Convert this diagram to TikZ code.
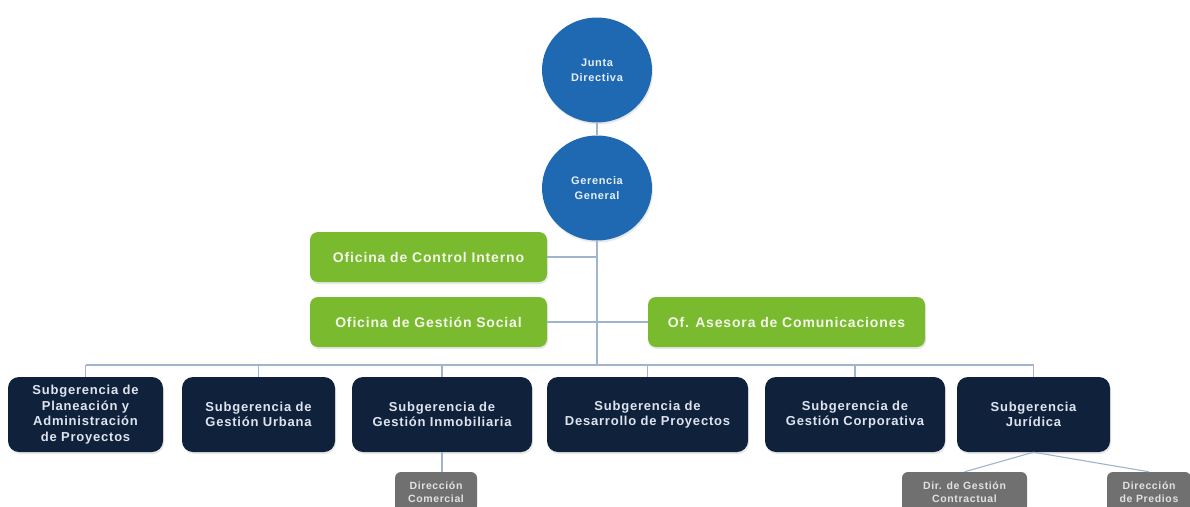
\documentclass[tikz,border=0pt]{standalone}
\usepackage{fontspec}
\setmainfont{Liberation Sans}[LetterSpace=6]
\usetikzlibrary{shapes.geometric,shadows}
\definecolor{cblue}{RGB}{31,105,178}
\definecolor{cgreen}{RGB}{121,186,46}
\definecolor{cnavy}{RGB}{16,33,60}
\definecolor{cgray}{RGB}{112,112,112}
\definecolor{cline}{RGB}{160,180,205}
\definecolor{tnavy}{RGB}{222,228,238}
\definecolor{tgreen}{RGB}{244,248,234}
\definecolor{tblue}{RGB}{232,238,248}
\definecolor{tgray}{RGB}{226,226,226}
\tikzset{
  shadowed/.style={drop shadow={shadow xshift=1pt,shadow yshift=-2pt,opacity=0.18}},
  circ/.style={ellipse,fill=cblue,draw=none,minimum width=110pt,minimum height=105pt,inner sep=0pt,
    text=tblue,align=center,font=\bfseries\fontsize{11}{15}\selectfont,shadowed},
  greenbox/.style={rectangle,rounded corners=8pt,fill=cgreen,minimum height=50pt,inner sep=0pt,
    text=tgreen,align=center,font=\bfseries\fontsize{14}{17}\selectfont,shadowed},
  navybox/.style={rectangle,rounded corners=11pt,fill=cnavy,minimum height=75pt,inner sep=0pt,
    text=tnavy,align=center,font=\bfseries\fontsize{13}{15.5}\selectfont,shadowed},
  graybox/.style={rectangle,rounded corners=6pt,fill=cgray,minimum height=40pt,inner sep=0pt,
    text=tgray,align=center,font=\bfseries\fontsize{10.5}{13.5}\selectfont},
  conn/.style={draw=cline,line width=1.1pt}
}
\begin{document}
\begin{tikzpicture}[x=1pt,y=-1pt]
\useasboundingbox (0,0) rectangle (1190,506);
\fill[white] (0,0) rectangle (1190,506);

% circles
\node[circ] (junta) at (597,70) {Junta\\Directiva};
\node[circ] (gerencia) at (597,188) {Gerencia\\General};

% green offices
\node[greenbox,minimum width=237pt] (control) at (428.5,257) {Oficina de Control Interno};
\node[greenbox,minimum width=237pt] (social) at (428.5,322) {Oficina de Gestión Social};
\node[greenbox,minimum width=277pt] (asesora) at (786.5,322) {Of. Asesora de Comunicaciones};

% subgerencias
\node[navybox,minimum width=155pt] (s1) at (85.5,414.5) {Subgerencia de\\Planeación y\\Administración\\de Proyectos};
\node[navybox,minimum width=153pt] (s2) at (258.5,414.5) {Subgerencia de\\Gestión Urbana};
\node[navybox,minimum width=180pt] (s3) at (442,414.5) {Subgerencia de\\Gestión Inmobiliaria};
\node[navybox,minimum width=201pt] (s4) at (647.5,414.5) {Subgerencia de\\Desarrollo de Proyectos};
\node[navybox,minimum width=180pt] (s5) at (855,414.5) {Subgerencia de\\Gestión Corporativa};
\node[navybox,minimum width=153pt] (s6) at (1033.5,414.5) {Subgerencia\\Jurídica};

% direcciones
\node[graybox,minimum width=82pt] (comercial) at (436,492) {Dirección\\Comercial};
\node[graybox,minimum width=125pt] (contractual) at (964.5,492) {Dir. de Gestión\\Contractual};
\node[graybox,minimum width=84pt] (predios) at (1149,492) {Dirección\\de Predios};

% connectors
\coordinate (trunk) at (597,365);
\coordinate (busL) at (85.5,365);
\coordinate (busR) at (1033.5,365);
\draw[conn] (junta.south) -- (gerencia.north);
\draw[conn] (gerencia.south) -- (trunk);
\draw[conn] (busL) -- (busR);
\draw[conn] (control.east) -- (control.east -| trunk);
\draw[conn] (social.east) -- (asesora.west);
\foreach \s in {s1,s2,s3,s4,s5,s6}{
  \draw[conn] (\s.north |- trunk) -- (\s.north);
}
\draw[conn] (s3.south) -- (s3.south |- comercial.north);
\draw[conn] (s6.south) -- (contractual.north);
\draw[conn] (s6.south) -- (predios.north);
\end{tikzpicture}
\end{document}
